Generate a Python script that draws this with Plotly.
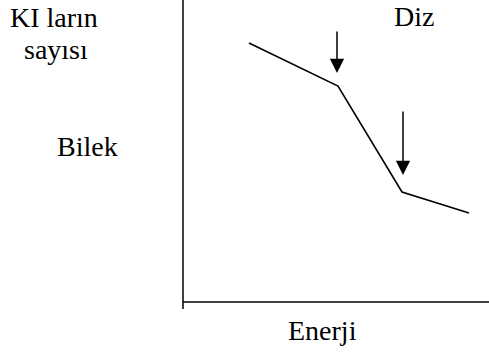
import plotly.graph_objects as go

# Data (energy vs number of cosmic rays), in plot units
energy = [66, 155, 219, 286]
count = [259, 216, 110, 89]

# Arrow markers (knee "Diz" and ankle "Bilek")
arrow_x = [154, 220]
arrow_tail_y = [272, 192]
arrow_head_y = [229, 127]

FONT = dict(family="serif", size=28, color="black")

W, H = 489, 352
L, B = 183, 50
PW, PH = W - L, H - B

fig = go.Figure()
fig.add_trace(go.Scatter(x=energy, y=count, mode="lines",
                         line=dict(color="black", width=1.6),
                         hoverinfo="skip", showlegend=False))

def px2paper(px, py):
    return (px - L) / PW, (PH - py) / PH

annotations = []
for ax_, ty, hy in zip(arrow_x, arrow_tail_y, arrow_head_y):
    annotations.append(dict(x=ax_, y=hy, ax=ax_, ay=ty, xref="x", yref="y",
                            axref="x", ayref="y", text="", showarrow=True,
                            arrowhead=2, arrowsize=1.9, arrowwidth=1.5,
                            arrowcolor="black"))

labels = [("KI ların", 53.5, 18), ("sayısı", 55.5, 50), ("Bilek", 87.5, 146),
          ("Diz", 413.5, 17), ("Enerji", 322, 330)]
for t, px, py in labels:
    x, y = px2paper(px, py)
    annotations.append(dict(x=x, y=y, xref="paper", yref="paper", text=t,
                            showarrow=False, xanchor="center", yanchor="middle",
                            font=FONT))

shapes = [
    dict(type="line", xref="paper", yref="paper", x0=0, x1=0,
         y0=(PH - 309) / PH, y1=1, line=dict(color="black", width=1.5)),
    dict(type="line", xref="paper", yref="paper", x0=0, x1=1,
         y0=0, y1=0, line=dict(color="black", width=1.5)),
]

fig.update_layout(
    width=W, height=H,
    margin=dict(l=L, r=0, t=0, b=B),
    paper_bgcolor="white", plot_bgcolor="white",
    font=FONT,
    xaxis=dict(range=[0, PW], visible=False),
    yaxis=dict(range=[0, PH], visible=False),
    annotations=annotations, shapes=shapes,
)
fig.write_html("out.html", config={"displayModeBar": False},
               post_script="document.body.style.margin='0';")
